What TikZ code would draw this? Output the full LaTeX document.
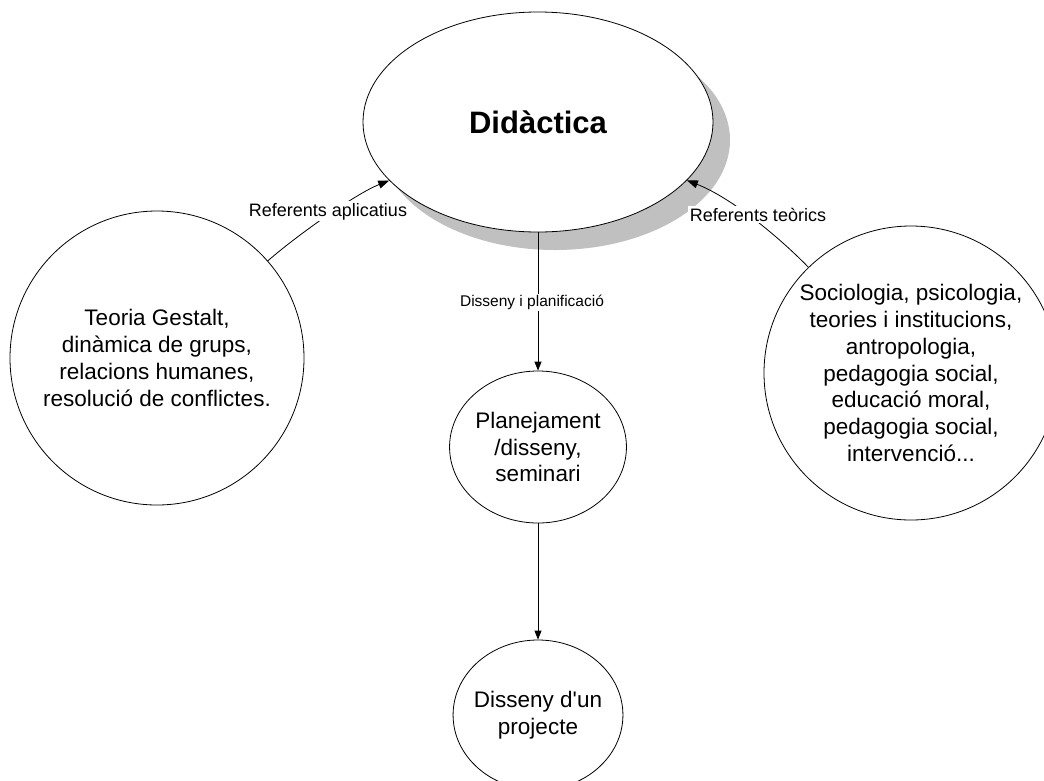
\documentclass[tikz,border=0pt]{standalone}
\usepackage{fontspec}
\setmainfont{Liberation Sans}
\usetikzlibrary{arrows.meta,shapes.geometric}
\definecolor{shadowgray}{RGB}{192,192,192}
\tikzset{
  big/.style={font=\fontsize{22.5}{26.8}\selectfont, align=center},
  roundbox/.style={circle, draw=black, line width=0.8pt, fill=white, inner sep=0pt, big},
  ovalbox/.style={ellipse, draw=black, line width=0.8pt, fill=white, inner sep=0pt, big},
  conn/.style={draw=black, line width=0.8pt, -{Triangle[length=11pt,width=8pt]}},
  vconn/.style={draw=black, line width=0.8pt, -{Triangle[length=9pt,width=7pt]}},
  lab/.style={fill=white, inner sep=1.5pt, font=\fontsize{18}{20}\selectfont, anchor=base},
  smalllab/.style={fill=white, inner sep=1.5pt, font=\fontsize{15.5}{18}\selectfont, anchor=base}
}
\begin{document}
\begin{tikzpicture}[x=1pt,y=-1pt]
\useasboundingbox (0,0) rectangle (1044,780);
\clip (0,0) rectangle (1044,780);
\fill[white] (0,0) rectangle (1044,780);

\coordinate (shadowc) at (555,140);
\fill[shadowgray] (shadowc) ellipse [x radius=175pt, y radius=110pt];
\node[ellipse, draw=black, line width=0.8pt, fill=white, minimum width=350pt, minimum height=220pt, inner sep=0pt]
      (main) at (538,122) {\fontsize{31}{36}\selectfont\bfseries Didàctica};

\node[roundbox, minimum size=294pt] (left) at (157,358)
  {Teoria Gestalt,\\dinàmica de grups,\\relacions humanes,\\resolució de conflictes.};

\node[roundbox, minimum size=294pt] (right) at (911,373)
  {Sociologia, psicologia,\\teories i institucions,\\antropologia,\\pedagogia social,\\educació moral,\\pedagogia social,\\intervenció...};

\node[ovalbox, minimum width=168pt, minimum height=152pt] (plan) at (538,447)
  {Planejament\\/disseny,\\seminari};

\node[ovalbox, minimum width=168pt, minimum height=150pt, inner xsep=-4pt] (proj) at (538,715)
  {Disseny d\textquotesingle un\\projecte};

\draw[conn] (left) .. controls (295,237) and (355,194) .. (main);
\draw[conn] (right) .. controls (780,238) and (732,198) .. (main);
\draw[vconn] (main.south) -- (plan.north);
\draw[vconn] (plan.south) -- (proj.north);

\node[lab] (labA) at (328,216) {Referents aplicatius};
\node[lab] (labT) at (758,221) {Referents teòrics};
\node[smalllab] (labD) at (532,306.5) {Disseny i planificació};
\end{tikzpicture}
\end{document}
